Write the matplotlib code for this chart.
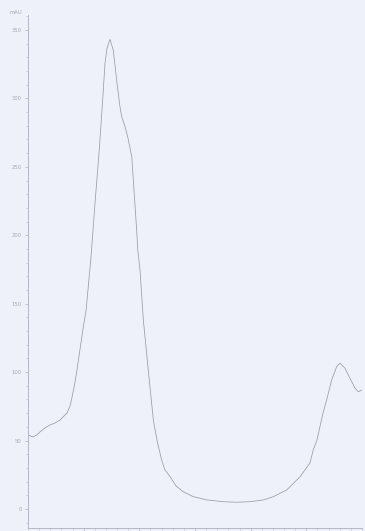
import numpy as np
import matplotlib.pyplot as plt
from matplotlib.ticker import MultipleLocator

# absorbance spectrum, wavelength in nm vs mAU
wavelength = [200.0, 202.2, 204.0, 205.4, 207.6, 209.9, 212.1, 214.4, 216.2, 217.5,
              218.9, 219.8, 220.9, 222.0, 223.3, 224.6, 226.1, 228.3, 230.1, 232.0,
              233.5, 234.6, 235.5, 236.8, 238.3, 239.8, 241.3, 242.1,
              243.6, 244.9, 246.6, 247.6, 248.8, 249.3, 250.3, 251.8, 254.0, 256.3,
              257.9, 260.0, 261.5, 263.8, 266.5, 269.7, 274.2, 280.3, 287.7, 293.7,
              299.7, 305.7, 310.2, 316.2, 322.2, 326.6, 328.1, 329.8, 331.1, 332.5,
              334.1, 336.4, 338.6, 340.1, 342.4, 344.6, 346.9, 348.3, 350.0]
absorbance = [54.1, 52.6, 54.1, 56.3, 59.2, 61.4, 62.8, 65.0, 68.0, 70.1,
              75.3, 81.8, 90.6, 101.6, 116.0, 130.5, 145.4, 184.1, 223.6, 262.3,
              298.1, 325.9, 336.8, 343.2, 335.4, 313.5, 294.0, 286.6,
              279.3, 271.1, 257.4, 233.1, 203.9, 189.2, 174.6, 138.1, 101.6, 65.0,
              50.4, 35.8, 28.5, 23.6, 16.8, 12.6, 9.0, 6.6, 5.3, 4.9,
              5.3, 6.6, 9.0, 13.9, 23.6, 33.6, 43.1, 50.4, 60.1, 70.1,
              79.6, 94.3, 104.0, 106.5, 102.8, 95.5, 88.2, 85.7, 86.9]

x_major = [225, 250, 275, 300, 325]
y_major = [0, 50, 100, 150, 200, 250, 300, 350]

bg = '#eef0fa'
axis_col = '#aeb0c0'
text_col = '#a6a8b4'

fig = plt.figure(figsize=(3.65, 5.31), dpi=100, facecolor=bg)
ax = fig.add_axes([0.0767, 0.0057, 0.9151, 0.9661], facecolor=bg)

ax.plot(wavelength, absorbance, color='#9a9baa', lw=0.55)

ax.set_xlim(200, 350)
ax.set_ylim(-13.9, 361)

ax.set_xticks(x_major)
ax.set_xticklabels([str(v) for v in x_major])
ax.xaxis.set_minor_locator(MultipleLocator(5))
ax.set_yticks(y_major)
ax.set_yticklabels([str(v) for v in y_major])
ax.yaxis.set_minor_locator(MultipleLocator(10))

for side in ['top', 'right']:
    ax.spines[side].set_visible(False)
for side in ['left', 'bottom']:
    ax.spines[side].set_color(axis_col)
    ax.spines[side].set_linewidth(0.6)

ax.tick_params(which='major', length=2.5, width=0.5, color=axis_col,
               labelsize=3.8, labelcolor=text_col, pad=2)
ax.tick_params(which='minor', length=1.4, width=0.4, color=axis_col)

ax.text(-0.018, 1.0, 'mAU', transform=ax.transAxes, ha='right', va='bottom',
        fontsize=3.8, color=text_col)

fig.savefig('out.png', dpi=100, facecolor=bg)
